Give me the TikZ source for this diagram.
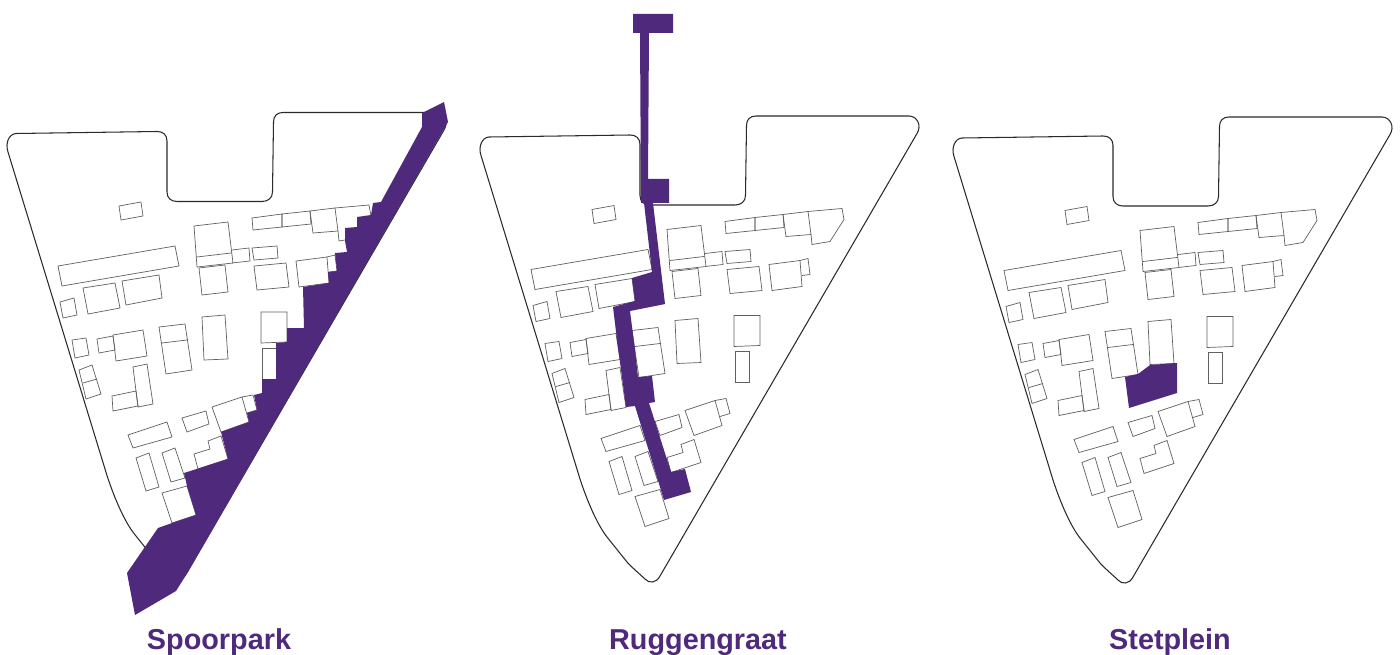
\documentclass[tikz,border=0pt]{standalone}
\usepackage{fontspec}
\setmainfont{Liberation Sans}
\definecolor{plum}{HTML}{4F2A7C}
\definecolor{inkline}{HTML}{2A2A2A}
\definecolor{bldline}{HTML}{606060}
\tikzset{
  siteline/.style={draw=inkline,line width=1.05pt},
  bld/.style={draw=bldline,line width=0.7pt,line join=miter},
  area/.style={fill=plum,draw=none},
  caption/.style={text=plum,font=\fontsize{28.8}{32}\selectfont\bfseries,anchor=base}
}
\newcommand{\siteplan}{%
  \draw[siteline] (16,133.5) -- (157,131.5) .. controls (163,131.3) and (167,135) .. (167,141) -- (167,192) .. controls (167,198) and (171,201.5) .. (177,201.5) -- (262,201.5) .. controls (268,201.5) and (272.5,198) .. (272.5,192) -- (273.5,122) .. controls (273.5,116) and (277,112.5) .. (283,112.5) -- (436,112.5) .. controls (444,112.5) and (449,122) .. (444,130) -- (187,572.5) .. controls (183,580) and (176,580) .. (172,575.5) .. controls (165,569) and (160,565) .. (154,558.5) -- (134,533.5) .. controls (125,522) and (115,500) .. (107,475.5) -- (8,152) .. controls (5,143) and (9,134) .. (16,133.5) -- cycle;
  \draw[bld] (119,206) -- (141,202) -- (143,216) -- (121,220) -- cycle;
  \draw[bld] (58,266) -- (175,246) -- (179,266) -- (62,286) -- cycle;
  \draw[bld] (83,288) -- (115,283) -- (120,308) -- (88,314) -- cycle;
  \draw[bld] (122,281) -- (159,275) -- (162,298) -- (126,305) -- cycle;
  \draw[bld] (60,302) -- (74,298) -- (77,315) -- (63,318) -- cycle;
  \draw[bld] (72,340) -- (86,338) -- (89,355) -- (75,358) -- cycle;
  \draw[bld] (97,339) -- (113,336) -- (115,350) -- (99,353) -- cycle;
  \draw[bld] (113,335) -- (143,330) -- (147,356) -- (116,361) -- cycle;
  \draw[bld] (159,327) -- (185,324) -- (192,370) -- (166,374) -- cycle (162,343) -- (187,340);
  \draw[bld] (202,317) -- (225,315) -- (228,359) -- (204,360) -- cycle;
  \draw[bld] (194,226) -- (228,222) -- (233,263) -- (197,267) -- cycle (197,257) -- (231,253);
  \draw[bld] (232,250) -- (249,248) -- (250,261) -- (232,263);
  \draw[bld] (199,268) -- (225,265) -- (228,292) -- (202,295) -- cycle;
  \draw[bld] (252,218) -- (282,214) -- (282,227) -- (253,230) -- cycle;
  \draw[bld] (282,214) -- (310,211) -- (311,224) -- (282,227) -- cycle;
  \draw[bld] (310,211) -- (335,208) -- (338,231) -- (313,233) -- cycle;
  \draw[bld] (335,208) -- (369,205) -- (371,216) -- (357,238) -- (339,241) -- (338,231);
  \draw[bld] (252,248) -- (277,246) -- (278,258) -- (254,260) -- cycle;
  \draw[bld] (254,266) -- (286,263) -- (289,287) -- (257,290) -- cycle;
  \draw[bld] (296,261) -- (327,257) -- (329,283) -- (299,287) -- cycle;
  \draw[bld] (327,257) -- (335,255) -- (337,271) -- (329,272);
  \draw[bld] (261,312) -- (287,312) -- (287,342) -- (261,343) -- cycle;
  \draw[bld] (262,348) -- (276,348) -- (276,379) -- (262,379) -- cycle;
  \draw[bld] (112,396) -- (136,391) -- (138,406) -- (113,411) -- cycle;
  \draw[bld] (133,367) -- (147,364) -- (153,404) -- (138,407) -- cycle;
  \draw[bld] (79,370) -- (92,365) -- (101,394) -- (86,399) -- cycle (83,383) -- (97,379);
  \draw[bld] (128,435) -- (167,422) -- (172,437) -- (133,448) -- cycle;
  \draw[bld] (182,418) -- (206,411) -- (209,424) -- (187,432) -- cycle;
  \draw[bld] (136,458) -- (149,453) -- (159,487) -- (146,491) -- cycle;
  \draw[bld] (162,453) -- (175,448) -- (185,478) -- (171,482) -- cycle;
  \draw[bld] (162,493) -- (187,486) -- (196,515) -- (172,523) -- cycle;
  \draw[bld] (194,454) -- (210,449) -- (208,441) -- (221,436) -- (228,459) -- (198,469) -- cycle;
  \draw[bld] (212,407) -- (242,397) -- (249,422) -- (221,432) -- cycle;
  \draw[bld] (242,397) -- (253,395) -- (257,410) -- (247,413);
}
\begin{document}
\begin{tikzpicture}[x=1pt,y=-1pt]
\useasboundingbox (0,0) rectangle (1400,655);
\fill[white] (0,0) rectangle (1400,655);
\begin{scope}\siteplan\end{scope}
\begin{scope}[shift={(473,3.5)}]\siteplan\end{scope}
\begin{scope}[shift={(946,4.5)}]\siteplan\end{scope}
\fill[area] (422,113) -- (444,102) -- (448,122) -- (188,572) -- (176,591) -- (135,615) -- (127,573) -- (158,528) -- (172,523) -- (196,515) -- (187,486) -- (184,473) -- (228,459) -- (221,432) -- (249,422) -- (247,413) -- (257,410) -- (254,395) -- (262,393) -- (262,379) -- (276,379) -- (276,343) -- (287,342) -- (287,328) -- (304,328) -- (303,287) -- (329,283) -- (328,272) -- (337,271) -- (335,253) -- (347,252) -- (345,241) -- (345,228) -- (357,227) -- (357,217) -- (371,215) -- (373,203) -- (381,202) -- (422,127) -- cycle;
\fill[area] (633,14) -- (673,14) -- (673,33) -- (649,33) -- (648,179) -- (669,179) -- (669,203) -- (653,203) -- (665,304) -- (630,311) -- (635,350) -- (638,377) -- (652,376) -- (655,402) -- (649,403) -- (671,472) -- (685,469) -- (691,492) -- (664,500) -- (635,406) -- (626,407) -- (617,340) -- (613,307) -- (635,301) -- (632,278) -- (652,272) -- (644,203) -- (641,203) -- (640,33) -- (633,33) -- cycle;
\fill[area] (1125,377) -- (1138,374) -- (1150,365) -- (1177,363) -- (1177,393) -- (1129,408) -- cycle;
\node[caption] (spoor) at (219,649) {Spoorpark};
\node[caption] (rug) at (698,649) {Ruggengraat};
\node[caption] (stet) at (1170,649) {Stetplein};
\end{tikzpicture}
\end{document}
